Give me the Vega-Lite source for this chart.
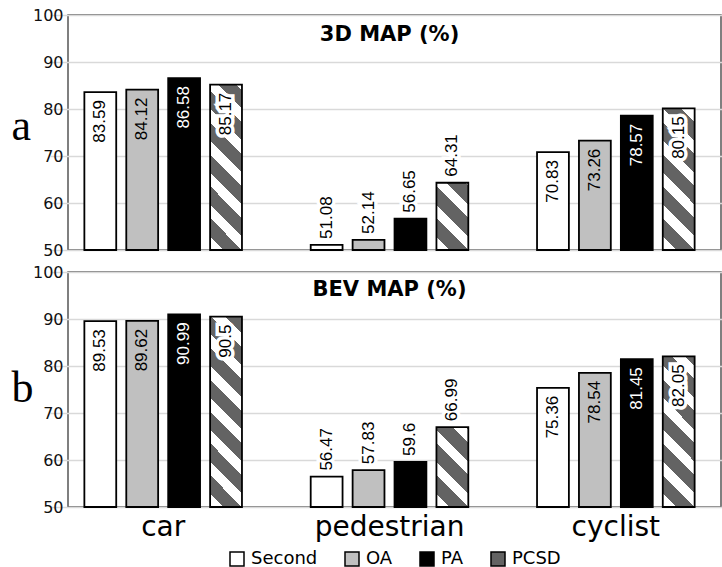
{
  "$schema": "https://vega.github.io/schema/vega-lite/v6.json",
  "background": "white",
  "padding": {"left": 10, "top": 6, "right": 0, "bottom": 0},
  "data": {"values": [
    {"panel": "a", "cat": "car", "series": "Second", "value": 83.59},
    {"panel": "a", "cat": "car", "series": "OA", "value": 84.12},
    {"panel": "a", "cat": "car", "series": "PA", "value": 86.58},
    {"panel": "a", "cat": "car", "series": "PCSD", "value": 85.17},
    {"panel": "a", "cat": "pedestrian", "series": "Second", "value": 51.08},
    {"panel": "a", "cat": "pedestrian", "series": "OA", "value": 52.14},
    {"panel": "a", "cat": "pedestrian", "series": "PA", "value": 56.65},
    {"panel": "a", "cat": "pedestrian", "series": "PCSD", "value": 64.31},
    {"panel": "a", "cat": "cyclist", "series": "Second", "value": 70.83},
    {"panel": "a", "cat": "cyclist", "series": "OA", "value": 73.26},
    {"panel": "a", "cat": "cyclist", "series": "PA", "value": 78.57},
    {"panel": "a", "cat": "cyclist", "series": "PCSD", "value": 80.15},
    {"panel": "b", "cat": "car", "series": "Second", "value": 89.53},
    {"panel": "b", "cat": "car", "series": "OA", "value": 89.62},
    {"panel": "b", "cat": "car", "series": "PA", "value": 90.99},
    {"panel": "b", "cat": "car", "series": "PCSD", "value": 90.5},
    {"panel": "b", "cat": "pedestrian", "series": "Second", "value": 56.47},
    {"panel": "b", "cat": "pedestrian", "series": "OA", "value": 57.83},
    {"panel": "b", "cat": "pedestrian", "series": "PA", "value": 59.6},
    {"panel": "b", "cat": "pedestrian", "series": "PCSD", "value": 66.99},
    {"panel": "b", "cat": "cyclist", "series": "Second", "value": 75.36},
    {"panel": "b", "cat": "cyclist", "series": "OA", "value": 78.54},
    {"panel": "b", "cat": "cyclist", "series": "PA", "value": 81.45},
    {"panel": "b", "cat": "cyclist", "series": "PCSD", "value": 82.05}
  ]},
  "spacing": 4,
  "vconcat": [
    {
      "width": 653,
      "height": 235,
      "layer": [
        {
          "transform": [{"filter": "datum.panel == 'a'"}],
          "encoding": {
            "x": {"field": "cat", "type": "nominal", "sort": ["car", "pedestrian", "cyclist"], "scale": {"range": [-18, 661], "paddingInner": 0, "paddingOuter": 0}, "axis": null},
            "xOffset": {"field": "series", "type": "nominal", "sort": ["Second", "OA", "PA", "PCSD"], "scale": {"paddingInner": 0.24, "paddingOuter": 0.82}},
            "y": {"field": "value", "type": "quantitative", "scale": {"domain": [50, 100], "zero": false, "nice": false},
              "axis": {"values": [50, 60, 70, 80, 90, 100], "title": "a", "titleAngle": 0, "titleFont": "Liberation Serif", "titleFontSize": 44, "titleFontWeight": "normal", "titleColor": "black", "titleAlign": "left", "titleBaseline": "alphabetic", "titleX": -57, "titleY": 124, "labelFont": "DejaVu Sans", "labelFontSize": 16, "labelColor": "#111", "labelPadding": 5, "ticks": false, "domain": false, "gridColor": "#d9d9d9", "gridWidth": 1.5}}
          },
          "layer": [
            {
              "mark": {"type": "bar", "stroke": "black", "strokeWidth": 1.8},
              "encoding": {
                "y2": {"datum": 50},
                "fill": {
                  "condition": [
                    {"test": "datum.series == 'PCSD' && datum.panel == 'a' && datum.cat == 'car'", "value": {"gradient": "linear", "x1": 0, "y1": 1, "x2": 0.2227, "y2": -0.1505, "stops": [
                      {"offset": 0, "color": "white"}, {"offset": 0.0681, "color": "white"}, {"offset": 0.0681, "color": "#636363"}, {"offset": 0.162, "color": "#636363"}, {"offset": 0.162, "color": "white"}, {"offset": 0.2301, "color": "white"}, {"offset": 0.2301, "color": "#636363"}, {"offset": 0.324, "color": "#636363"}, {"offset": 0.324, "color": "white"}, {"offset": 0.3921, "color": "white"}, {"offset": 0.3921, "color": "#636363"}, {"offset": 0.486, "color": "#636363"}, {"offset": 0.486, "color": "white"}, {"offset": 0.5541, "color": "white"}, {"offset": 0.5541, "color": "#636363"}, {"offset": 0.648, "color": "#636363"}, {"offset": 0.648, "color": "white"}, {"offset": 0.7161, "color": "white"}, {"offset": 0.7161, "color": "#636363"}, {"offset": 0.81, "color": "#636363"}, {"offset": 0.81, "color": "white"}, {"offset": 0.8781, "color": "white"}, {"offset": 0.8781, "color": "#636363"}, {"offset": 0.972, "color": "#636363"}, {"offset": 0.972, "color": "white"}, {"offset": 1, "color": "white"}]}},
                    {"test": "datum.series == 'PCSD' && datum.panel == 'a' && datum.cat == 'pedestrian'", "value": {"gradient": "linear", "x1": 0, "y1": 1, "x2": 0.5725, "y2": -0.2034, "stops": [
                      {"offset": 0, "color": "white"}, {"offset": 0.1353, "color": "white"}, {"offset": 0.1353, "color": "#636363"}, {"offset": 0.322, "color": "#636363"}, {"offset": 0.322, "color": "white"}, {"offset": 0.4573, "color": "white"}, {"offset": 0.4573, "color": "#636363"}, {"offset": 0.644, "color": "#636363"}, {"offset": 0.644, "color": "white"}, {"offset": 0.7793, "color": "white"}, {"offset": 0.7793, "color": "#636363"}, {"offset": 0.9659, "color": "#636363"}, {"offset": 0.9659, "color": "white"}, {"offset": 1, "color": "white"}]}},
                    {"test": "datum.series == 'PCSD' && datum.panel == 'a' && datum.cat == 'cyclist'", "value": {"gradient": "linear", "x1": 0, "y1": 1, "x2": 0.2634, "y2": -0.1663, "stops": [
                      {"offset": 0, "color": "white"}, {"offset": 0.0773, "color": "white"}, {"offset": 0.0773, "color": "#636363"}, {"offset": 0.184, "color": "#636363"}, {"offset": 0.184, "color": "white"}, {"offset": 0.2613, "color": "white"}, {"offset": 0.2613, "color": "#636363"}, {"offset": 0.368, "color": "#636363"}, {"offset": 0.368, "color": "white"}, {"offset": 0.4453, "color": "white"}, {"offset": 0.4453, "color": "#636363"}, {"offset": 0.552, "color": "#636363"}, {"offset": 0.552, "color": "white"}, {"offset": 0.6293, "color": "white"}, {"offset": 0.6293, "color": "#636363"}, {"offset": 0.736, "color": "#636363"}, {"offset": 0.736, "color": "white"}, {"offset": 0.8133, "color": "white"}, {"offset": 0.8133, "color": "#636363"}, {"offset": 0.92, "color": "#636363"}, {"offset": 0.92, "color": "white"}, {"offset": 0.9973, "color": "white"}, {"offset": 0.9973, "color": "#636363"}, {"offset": 1, "color": "#636363"}]}}
                  ],
                  "field": "series", "type": "nominal",
                  "scale": {"domain": ["Second", "OA", "PA", "PCSD"], "range": ["white", "#c0c0c0", "black", "#636363"]},
                  "legend": {"orient": "none", "legendX": 160, "legendY": 535, "direction": "horizontal", "title": null, "symbolType": "square", "symbolSize": 196, "labelFont": "DejaVu Sans", "labelFontSize": 18, "labelColor": "black", "columnPadding": 24, "labelOffset": 5,
                    "encode": {"symbols": {
                      "stroke": {"value": "black"},
                      "strokeWidth": {"value": 1.5},
                      "fill": {"condition": [
                        {"test": "datum.value === 'Second'", "value": "white"},
                        {"test": "datum.value === 'OA'", "value": "#c0c0c0"},
                        {"test": "datum.value === 'PA'", "value": "black"}
                      ], "value": {"gradient": "linear", "x1": 0, "y1": 1, "x2": 1, "y2": 0, "stops": [{"offset": 0, "color": "white"}, {"offset": 0.5, "color": "white"}, {"offset": 0.5, "color": "#636363"}, {"offset": 1, "color": "#636363"}]}}
                    }}}
                }
              }
            },
            {
              "transform": [{"filter": "datum.series == 'PCSD' && datum.cat != 'pedestrian'"}],
              "mark": {"type": "text", "angle": 270, "align": "right", "baseline": "middle", "dx": -8, "font": "Liberation Sans", "fontSize": 17, "fill": "white", "stroke": "white", "strokeWidth": 7, "strokeJoin": "miter"},
              "encoding": {"text": {"field": "value", "type": "nominal"}}
            },
            {
              "transform": [{"filter": "datum.cat == 'pedestrian'"}],
              "mark": {"type": "text", "angle": 270, "align": "left", "baseline": "middle", "dx": 6, "font": "Liberation Sans", "fontSize": 17, "fill": "white", "stroke": "white", "strokeWidth": 7, "strokeJoin": "miter"},
              "encoding": {"text": {"field": "value", "type": "nominal"}}
            },
            {
              "transform": [{"filter": "datum.cat != 'pedestrian'"}],
              "mark": {"type": "text", "angle": 270, "align": "right", "baseline": "middle", "dx": -8, "font": "Liberation Sans", "fontSize": 17},
              "encoding": {"text": {"field": "value", "type": "nominal"}, "color": {"condition": {"test": "datum.series == 'PA'", "value": "white"}, "value": "black"}}
            },
            {
              "transform": [{"filter": "datum.cat == 'pedestrian'"}],
              "mark": {"type": "text", "angle": 270, "align": "left", "baseline": "middle", "dx": 6, "font": "Liberation Sans", "fontSize": 17, "color": "black"},
              "encoding": {"text": {"field": "value", "type": "nominal"}}
            }
          ]
        },
        {
          "data": {"values": [{"t": "3D MAP (%)"}]},
          "mark": {"type": "text", "baseline": "alphabetic", "align": "center", "font": "DejaVu Sans", "fontSize": 21, "fontWeight": "bold", "color": "black"},
          "encoding": {
            "text": {"field": "t", "type": "nominal"},
            "x": {"datum": "pedestrian", "type": "nominal"},
            "y": {"datum": 94.5, "type": "quantitative"}
          }
        }
      ]
    },
    {
      "width": 653,
      "height": 235,
      "layer": [
        {
          "transform": [{"filter": "datum.panel == 'b'"}],
          "encoding": {
            "x": {"field": "cat", "type": "nominal", "sort": ["car", "pedestrian", "cyclist"], "scale": {"range": [-18, 661], "paddingInner": 0, "paddingOuter": 0},
              "axis": {"title": null, "labelAngle": 0, "labelFont": "DejaVu Sans", "labelFontSize": 28, "labelColor": "black", "labelPadding": 6, "ticks": false, "domain": false}},
            "xOffset": {"field": "series", "type": "nominal", "sort": ["Second", "OA", "PA", "PCSD"], "scale": {"paddingInner": 0.24, "paddingOuter": 0.82}},
            "y": {"field": "value", "type": "quantitative", "scale": {"domain": [50, 100], "zero": false, "nice": false},
              "axis": {"values": [50, 60, 70, 80, 90, 100], "title": "b", "titleAngle": 0, "titleFont": "Liberation Serif", "titleFontSize": 44, "titleFontWeight": "normal", "titleColor": "black", "titleAlign": "left", "titleBaseline": "alphabetic", "titleX": -57, "titleY": 129, "labelFont": "DejaVu Sans", "labelFontSize": 16, "labelColor": "#111", "labelPadding": 5, "ticks": false, "domain": false, "gridColor": "#d9d9d9", "gridWidth": 1.5}}
          },
          "layer": [
            {
              "mark": {"type": "bar", "stroke": "black", "strokeWidth": 1.8},
              "encoding": {
                "y2": {"datum": 50},
                "fill": {
                  "condition": [
                    {"test": "datum.series == 'PCSD' && datum.panel == 'b' && datum.cat == 'car'", "value": {"gradient": "linear", "x1": 0, "y1": 1, "x2": 0.191, "y2": -0.136, "stops": [
                      {"offset": 0, "color": "white"}, {"offset": 0.0604, "color": "white"}, {"offset": 0.0604, "color": "#636363"}, {"offset": 0.1437, "color": "#636363"}, {"offset": 0.1437, "color": "white"}, {"offset": 0.2042, "color": "white"}, {"offset": 0.2042, "color": "#636363"}, {"offset": 0.2875, "color": "#636363"}, {"offset": 0.2875, "color": "white"}, {"offset": 0.3479, "color": "white"}, {"offset": 0.3479, "color": "#636363"}, {"offset": 0.4312, "color": "#636363"}, {"offset": 0.4312, "color": "white"}, {"offset": 0.4916, "color": "white"}, {"offset": 0.4916, "color": "#636363"}, {"offset": 0.575, "color": "#636363"}, {"offset": 0.575, "color": "white"}, {"offset": 0.6354, "color": "white"}, {"offset": 0.6354, "color": "#636363"}, {"offset": 0.7187, "color": "#636363"}, {"offset": 0.7187, "color": "white"}, {"offset": 0.7791, "color": "white"}, {"offset": 0.7791, "color": "#636363"}, {"offset": 0.8624, "color": "#636363"}, {"offset": 0.8624, "color": "white"}, {"offset": 0.9229, "color": "white"}, {"offset": 0.9229, "color": "#636363"}, {"offset": 1, "color": "#636363"}]}},
                    {"test": "datum.series == 'PCSD' && datum.panel == 'b' && datum.cat == 'pedestrian'", "value": {"gradient": "linear", "x1": 0, "y1": 1, "x2": 0.4837, "y2": -0.2069, "stops": [
                      {"offset": 0, "color": "white"}, {"offset": 0.1201, "color": "white"}, {"offset": 0.1201, "color": "#636363"}, {"offset": 0.2858, "color": "#636363"}, {"offset": 0.2858, "color": "white"}, {"offset": 0.4059, "color": "white"}, {"offset": 0.4059, "color": "#636363"}, {"offset": 0.5715, "color": "#636363"}, {"offset": 0.5715, "color": "white"}, {"offset": 0.6916, "color": "white"}, {"offset": 0.6916, "color": "#636363"}, {"offset": 0.8573, "color": "#636363"}, {"offset": 0.8573, "color": "white"}, {"offset": 0.9774, "color": "white"}, {"offset": 0.9774, "color": "#636363"}, {"offset": 1, "color": "#636363"}]}},
                    {"test": "datum.series == 'PCSD' && datum.panel == 'b' && datum.cat == 'cyclist'", "value": {"gradient": "linear", "x1": 0, "y1": 1, "x2": 0.2464, "y2": -0.1601, "stops": [
                      {"offset": 0, "color": "white"}, {"offset": 0.0736, "color": "white"}, {"offset": 0.0736, "color": "#636363"}, {"offset": 0.175, "color": "#636363"}, {"offset": 0.175, "color": "white"}, {"offset": 0.2485, "color": "white"}, {"offset": 0.2485, "color": "#636363"}, {"offset": 0.35, "color": "#636363"}, {"offset": 0.35, "color": "white"}, {"offset": 0.4235, "color": "white"}, {"offset": 0.4235, "color": "#636363"}, {"offset": 0.525, "color": "#636363"}, {"offset": 0.525, "color": "white"}, {"offset": 0.5985, "color": "white"}, {"offset": 0.5985, "color": "#636363"}, {"offset": 0.7, "color": "#636363"}, {"offset": 0.7, "color": "white"}, {"offset": 0.7735, "color": "white"}, {"offset": 0.7735, "color": "#636363"}, {"offset": 0.875, "color": "#636363"}, {"offset": 0.875, "color": "white"}, {"offset": 0.9485, "color": "white"}, {"offset": 0.9485, "color": "#636363"}, {"offset": 1, "color": "#636363"}]}}
                  ],
                  "field": "series", "type": "nominal",
                  "scale": {"domain": ["Second", "OA", "PA", "PCSD"], "range": ["white", "#c0c0c0", "black", "#636363"]},
                  "legend": {"orient": "none", "legendX": 160, "legendY": 535, "direction": "horizontal", "title": null, "symbolType": "square", "symbolSize": 196, "labelFont": "DejaVu Sans", "labelFontSize": 18, "labelColor": "black", "columnPadding": 24, "labelOffset": 5,
                    "encode": {"symbols": {
                      "stroke": {"value": "black"},
                      "strokeWidth": {"value": 1.5},
                      "fill": {"condition": [
                        {"test": "datum.value === 'Second'", "value": "white"},
                        {"test": "datum.value === 'OA'", "value": "#c0c0c0"},
                        {"test": "datum.value === 'PA'", "value": "black"}
                      ], "value": {"gradient": "linear", "x1": 0, "y1": 1, "x2": 1, "y2": 0, "stops": [{"offset": 0, "color": "white"}, {"offset": 0.5, "color": "white"}, {"offset": 0.5, "color": "#636363"}, {"offset": 1, "color": "#636363"}]}}
                    }}}
                }
              }
            },
            {
              "transform": [{"filter": "datum.series == 'PCSD' && datum.cat != 'pedestrian'"}],
              "mark": {"type": "text", "angle": 270, "align": "right", "baseline": "middle", "dx": -8, "font": "Liberation Sans", "fontSize": 17, "fill": "white", "stroke": "white", "strokeWidth": 7, "strokeJoin": "miter"},
              "encoding": {"text": {"field": "value", "type": "nominal"}}
            },
            {
              "transform": [{"filter": "datum.cat == 'pedestrian'"}],
              "mark": {"type": "text", "angle": 270, "align": "left", "baseline": "middle", "dx": 6, "font": "Liberation Sans", "fontSize": 17, "fill": "white", "stroke": "white", "strokeWidth": 7, "strokeJoin": "miter"},
              "encoding": {"text": {"field": "value", "type": "nominal"}}
            },
            {
              "transform": [{"filter": "datum.cat != 'pedestrian'"}],
              "mark": {"type": "text", "angle": 270, "align": "right", "baseline": "middle", "dx": -8, "font": "Liberation Sans", "fontSize": 17},
              "encoding": {"text": {"field": "value", "type": "nominal"}, "color": {"condition": {"test": "datum.series == 'PA'", "value": "white"}, "value": "black"}}
            },
            {
              "transform": [{"filter": "datum.cat == 'pedestrian'"}],
              "mark": {"type": "text", "angle": 270, "align": "left", "baseline": "middle", "dx": 6, "font": "Liberation Sans", "fontSize": 17, "color": "black"},
              "encoding": {"text": {"field": "value", "type": "nominal"}}
            }
          ]
        },
        {
          "data": {"values": [{"t": "BEV MAP (%)"}]},
          "mark": {"type": "text", "baseline": "alphabetic", "align": "center", "font": "DejaVu Sans", "fontSize": 21, "fontWeight": "bold", "color": "black"},
          "encoding": {
            "text": {"field": "t", "type": "nominal"},
            "x": {"datum": "pedestrian", "type": "nominal"},
            "y": {"datum": 94.9, "type": "quantitative"}
          }
        }
      ]
    }
  ],
  "config": {
    "view": {"stroke": "#555", "strokeWidth": 1.5}
  }
}
